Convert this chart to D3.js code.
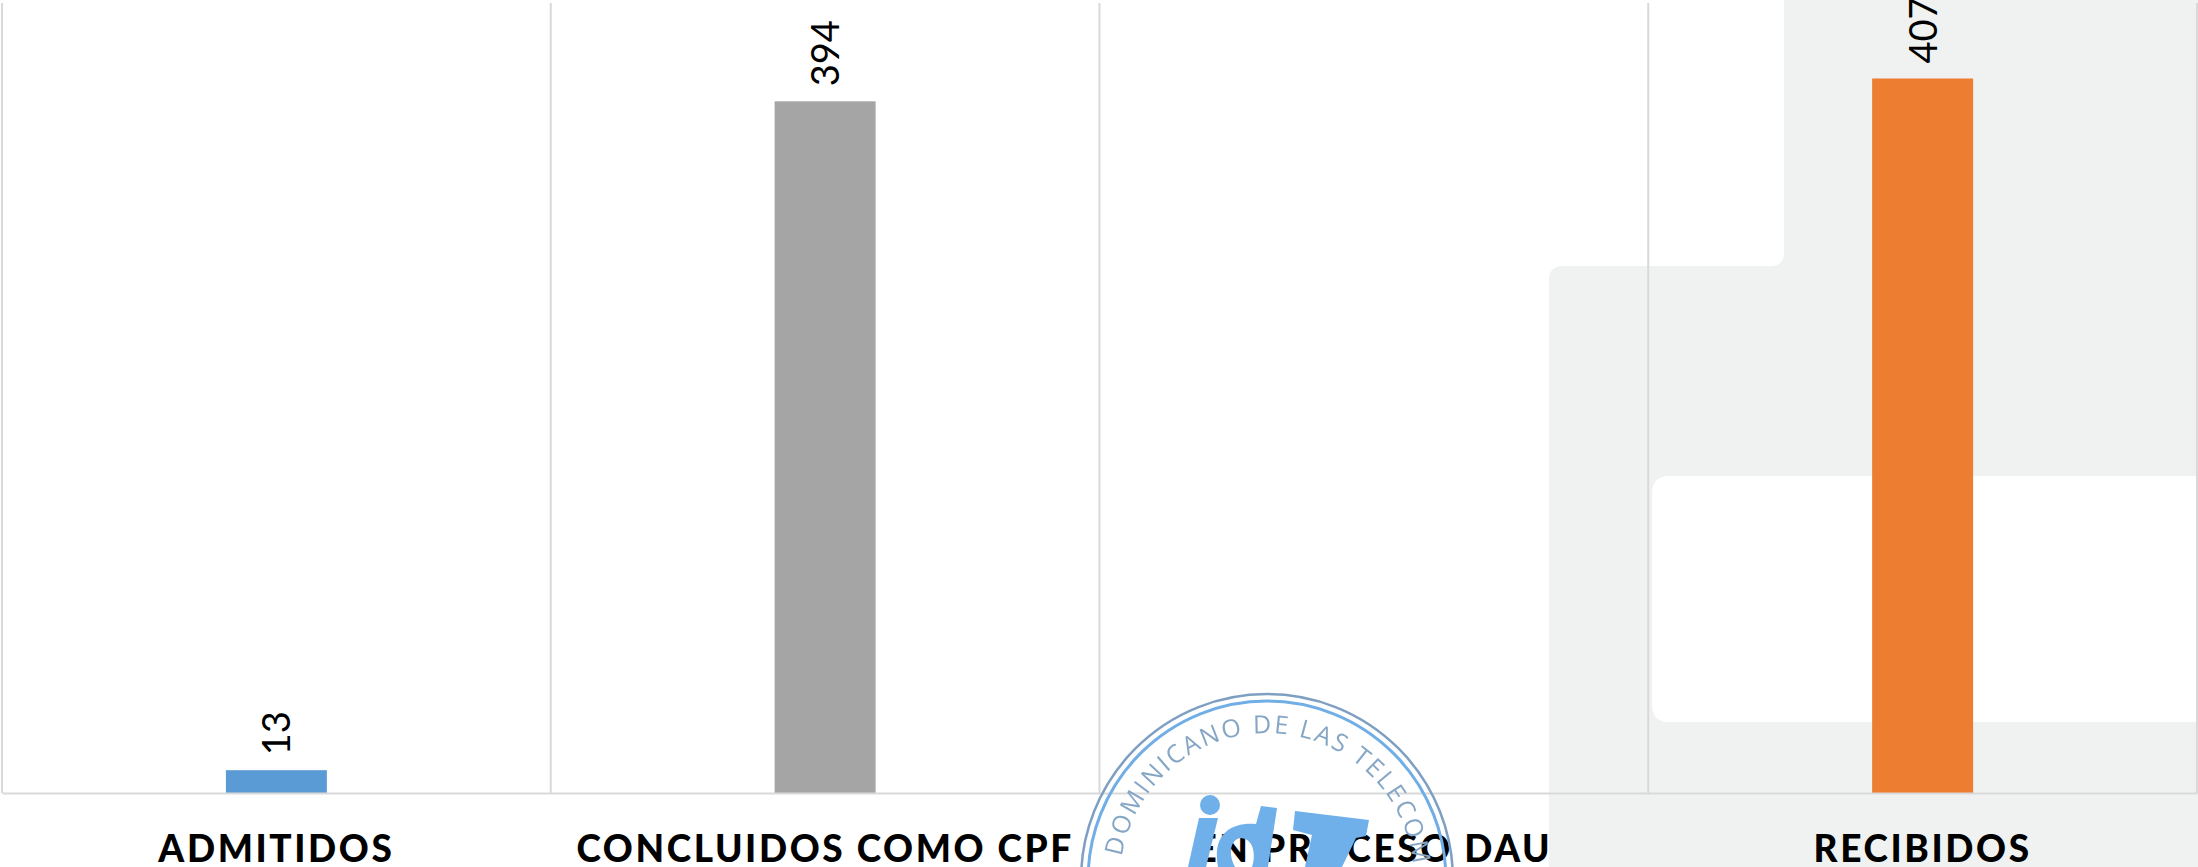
<!DOCTYPE html>
<html><head><meta charset="utf-8">
<script src="https://cdn.jsdelivr.net/npm/d3@7"></script>
<style>html,body{margin:0;padding:0;background:#fff;overflow:hidden}svg{display:block}</style>
</head><body><div id="chart"></div>
<script>
const categories = ["ADMITIDOS", "CONCLUIDOS COMO CPF", "EN PROCESO DAU", "RECIBIDOS"];
const values = [13, 394, null, 407];
const colors = ["#5b9bd5", "#a5a5a5", "#4472c4", "#ed7d31"];
const yMax = 450;

const W = 2198, H = 867;
const svg = d3.select("#chart").append("svg").attr("width", W).attr("height", H);
const defs = svg.append("defs");
defs.append("filter").attr("id", "soft").append("feGaussianBlur").attr("stdDeviation", 0.7);

// background page artefacts
svg.append("path").attr("fill", "#f0f2f1")
  .attr("d", "M1784,0 V253 Q1784,266 1770,266 H1563 Q1549,266 1549,280 V867 H2198 V0 Z");
svg.append("path").attr("fill", "#ffffff")
  .attr("d", "M2198,476 H1669 Q1652,476 1652,494 V704 Q1652,722 1669,722 H2198 Z");

const x = d3.scaleBand().domain(categories).range([2, 2197]);
const y = d3.scaleLinear().domain([0, yMax]).range([793, 3]);
const barW = x.bandwidth() * 0.184;

// grid
const edges = categories.map(c => x(c)).concat([x.range()[1]]);
svg.append("g").selectAll("line").data(edges).join("line")
  .attr("x1", d => d).attr("x2", d => d)
  .attr("y1", y(yMax)).attr("y2", y(0))
  .attr("stroke", "#d9d9d9").attr("stroke-width", 2);

// bars
svg.append("g").selectAll("rect").data(categories.map((c, i) => ({c, v: values[i], col: colors[i]})).filter(d => d.v != null)).join("rect")
  .attr("x", d => x(d.c) + x.bandwidth() / 2 - barW / 2)
  .attr("width", barW)
  .attr("y", d => y(d.v))
  .attr("height", d => y(0) - y(d.v))
  .attr("fill", d => d.col);

// x axis
const axis = d3.axisBottom(x).tickSize(0).tickPadding(43);
const gx = svg.append("g").attr("transform", `translate(0,${y(0)})`).call(axis);
gx.select(".domain").attr("stroke", "#d9d9d9").attr("stroke-width", 2);
gx.selectAll("text")
  .attr("font-family", "Lato, sans-serif").attr("font-weight", 900)
  .attr("font-size", 37).attr("letter-spacing", 2.6).attr("fill", "#000");

// value labels
svg.append("g").selectAll("text").data(categories.map((c, i) => ({c, v: values[i]})).filter(d => d.v != null)).join("text")
  .attr("transform", d => `translate(${x(d.c) + x.bandwidth() / 2 + 14},${y(d.v) - 15}) rotate(-90)`)
  .attr("font-family", "Lato, sans-serif").attr("font-size", 38).attr("fill", "#000")
  .text(d => d.v);

// stamp overlay
const cx = 1267, cy = 880;
const stamp = svg.append("g").attr("filter", "url(#soft)");
stamp.append("circle").attr("cx", cx).attr("cy", cy).attr("r", 186).attr("fill", "none").attr("stroke", "#7f9fc2").attr("stroke-width", 2.5);
stamp.append("circle").attr("cx", cx).attr("cy", cy).attr("r", 179).attr("fill", "none").attr("stroke", "#72aee6").attr("stroke-width", 3);
const tr = 147;
defs.append("path").attr("id", "stampArc")
  .attr("d", `M${cx - tr},${cy} A${tr},${tr} 0 0 1 ${cx + tr},${cy}`);
stamp.append("text").attr("font-family", "'Open Sans', sans-serif").attr("font-size", 25).attr("fill", "#86a6c6")
  .attr("letter-spacing", 2.2).attr("text-anchor", "middle")
  .append("textPath").attr("href", "#stampArc").attr("startOffset", "50%")
  .text("O DOMINICANO DE LAS TELECOMU");
const blue = "#6fb0ea";
stamp.append("circle").attr("cx", 1210).attr("cy", 805).attr("r", 10).attr("fill", blue);
stamp.append("path").attr("fill", blue).attr("d", "M1199,818 L1218,818 L1206,867 L1188,867 Z");
stamp.append("path").attr("fill", blue).attr("fill-rule", "evenodd")
  .attr("d", "M1261,806 L1277,808 L1268,867 L1218,867 C1212,835 1230,822 1256,824 Z M1240,838 C1230,840 1228,855 1235,867 L1252,867 C1256,855 1254,838 1240,838 Z");
stamp.append("path").attr("fill", blue)
  .attr("d", "M1295,811 L1369,820 L1366,836 L1356,838 L1342,867 L1305,867 L1312,835 L1293,830 Z");
</script></body></html>
